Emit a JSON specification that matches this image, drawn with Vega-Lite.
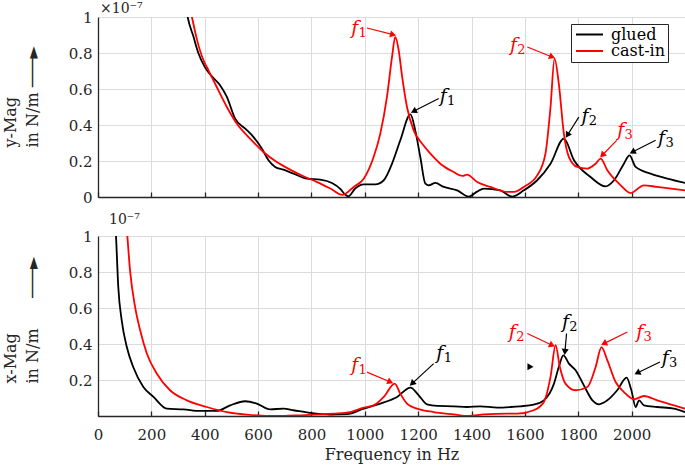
{
  "$schema": "https://vega.github.io/schema/vega-lite/v6.json",
  "background": "white",
  "padding": {"left": 2, "top": 2, "right": 0, "bottom": 2},
  "spacing": 8,
  "config": {
    "font": "DejaVu Serif",
    "view": {"stroke": null},
    "axis": {
      "labelFont": "DejaVu Serif", "titleFont": "DejaVu Serif",
      "labelFontSize": 15, "titleFontSize": 16, "titleFontWeight": "normal",
      "labelColor": "#262626", "titleColor": "#262626",
      "gridColor": "#dcdcdc", "gridWidth": 1,
      "domainColor": "#262626", "domainWidth": 1.3,
      "tickColor": "#262626", "tickWidth": 1.3,
      "labelOverlap": false, "labelFlush": false
    },
    "legend": {
      "orient": "none", "legendX": 473, "legendY": 7,
      "labelFont": "DejaVu Serif", "labelFontSize": 16, "labelColor": "#000000",
      "symbolType": "M-2.7,0H2.7", "symbolSize": 100, "symbolStrokeWidth": 2, "symbolOffset": 8,
      "strokeColor": "#262626", "fillColor": "white", "padding": 2.5,
      "labelOffset": 13.5, "cornerRadius": 0, "rowPadding": 0.5
    }
  },
  "datasets": {
    "top": [
      {"s":"glued","f":300,"v":1.35},{"s":"glued","f":320,"v":1.15},{"s":"glued","f":336,"v":1.0},{"s":"glued","f":358,"v":0.89},{"s":"glued","f":376,"v":0.8},{"s":"glued","f":401,"v":0.72},{"s":"glued","f":433,"v":0.66},{"s":"glued","f":458,"v":0.62},{"s":"glued","f":483,"v":0.556},{"s":"glued","f":514,"v":0.435},{"s":"glued","f":552,"v":0.38},{"s":"glued","f":583,"v":0.333},{"s":"glued","f":614,"v":0.269},{"s":"glued","f":639,"v":0.204},{"s":"glued","f":664,"v":0.167},{"s":"glued","f":695,"v":0.152},{"s":"glued","f":733,"v":0.13},{"s":"glued","f":783,"v":0.102},{"s":"glued","f":833,"v":0.097},{"s":"glued","f":877,"v":0.078},{"s":"glued","f":908,"v":0.045},{"s":"glued","f":927,"v":0.012},{"s":"glued","f":939,"v":0.004},{"s":"glued","f":964,"v":0.047},{"s":"glued","f":996,"v":0.07},{"s":"glued","f":1039,"v":0.07},{"s":"glued","f":1071,"v":0.093},{"s":"glued","f":1102,"v":0.185},{"s":"glued","f":1133,"v":0.315},{"s":"glued","f":1171,"v":0.459},{"s":"glued","f":1189,"v":0.37},{"s":"glued","f":1208,"v":0.222},{"s":"glued","f":1227,"v":0.074},{"s":"glued","f":1240,"v":0.065},{"s":"glued","f":1264,"v":0.078},{"s":"glued","f":1296,"v":0.056},{"s":"glued","f":1346,"v":0.037},{"s":"glued","f":1390,"v":0.002},{"s":"glued","f":1421,"v":0.03},{"s":"glued","f":1446,"v":0.047},{"s":"glued","f":1508,"v":0.037},{"s":"glued","f":1552,"v":0.002},{"s":"glued","f":1596,"v":0.037},{"s":"glued","f":1646,"v":0.093},{"s":"glued","f":1696,"v":0.185},{"s":"glued","f":1746,"v":0.324},{"s":"glued","f":1784,"v":0.204},{"s":"glued","f":1846,"v":0.111},{"s":"glued","f":1902,"v":0.059},{"s":"glued","f":1934,"v":0.093},{"s":"glued","f":1971,"v":0.185},{"s":"glued","f":1992,"v":0.231},{"s":"glued","f":2015,"v":0.167},{"s":"glued","f":2071,"v":0.13},{"s":"glued","f":2134,"v":0.102},{"s":"glued","f":2200,"v":0.078},
      {"s":"cast-in","f":330,"v":1.15},{"s":"cast-in","f":352,"v":1.0},{"s":"cast-in","f":370,"v":0.88},{"s":"cast-in","f":395,"v":0.76},{"s":"cast-in","f":414,"v":0.704},{"s":"cast-in","f":445,"v":0.611},{"s":"cast-in","f":483,"v":0.5},{"s":"cast-in","f":520,"v":0.408},{"s":"cast-in","f":570,"v":0.324},{"s":"cast-in","f":620,"v":0.25},{"s":"cast-in","f":670,"v":0.194},{"s":"cast-in","f":720,"v":0.152},{"s":"cast-in","f":770,"v":0.115},{"s":"cast-in","f":821,"v":0.083},{"s":"cast-in","f":871,"v":0.047},{"s":"cast-in","f":917,"v":0.012},{"s":"cast-in","f":958,"v":0.056},{"s":"cast-in","f":996,"v":0.102},{"s":"cast-in","f":1033,"v":0.222},{"s":"cast-in","f":1058,"v":0.352},{"s":"cast-in","f":1083,"v":0.556},{"s":"cast-in","f":1102,"v":0.778},{"s":"cast-in","f":1114,"v":0.889},{"s":"cast-in","f":1127,"v":0.815},{"s":"cast-in","f":1140,"v":0.667},{"s":"cast-in","f":1158,"v":0.5},{"s":"cast-in","f":1183,"v":0.37},{"s":"cast-in","f":1215,"v":0.296},{"s":"cast-in","f":1246,"v":0.241},{"s":"cast-in","f":1283,"v":0.185},{"s":"cast-in","f":1333,"v":0.139},{"s":"cast-in","f":1365,"v":0.117},{"s":"cast-in","f":1383,"v":0.124},{"s":"cast-in","f":1421,"v":0.083},{"s":"cast-in","f":1471,"v":0.056},{"s":"cast-in","f":1534,"v":0.028},{"s":"cast-in","f":1560,"v":0.028},{"s":"cast-in","f":1596,"v":0.056},{"s":"cast-in","f":1646,"v":0.12},{"s":"cast-in","f":1677,"v":0.241},{"s":"cast-in","f":1696,"v":0.5},{"s":"cast-in","f":1711,"v":0.769},{"s":"cast-in","f":1727,"v":0.63},{"s":"cast-in","f":1746,"v":0.352},{"s":"cast-in","f":1765,"v":0.222},{"s":"cast-in","f":1796,"v":0.167},{"s":"cast-in","f":1834,"v":0.158},{"s":"cast-in","f":1865,"v":0.185},{"s":"cast-in","f":1884,"v":0.213},{"s":"cast-in","f":1909,"v":0.148},{"s":"cast-in","f":1959,"v":0.065},{"s":"cast-in","f":1996,"v":0.022},{"s":"cast-in","f":2046,"v":0.065},{"s":"cast-in","f":2096,"v":0.056},{"s":"cast-in","f":2200,"v":0.037}
    ],
    "bottom": [
      {"s":"glued","f":55,"v":1.3},{"s":"glued","f":67.5,"v":1.0},{"s":"glued","f":76,"v":0.717},{"s":"glued","f":89,"v":0.53},{"s":"glued","f":108,"v":0.383},{"s":"glued","f":132,"v":0.272},{"s":"glued","f":170,"v":0.161},{"s":"glued","f":208,"v":0.106},{"s":"glued","f":258,"v":0.041},{"s":"glued","f":320,"v":0.037},{"s":"glued","f":383,"v":0.028},{"s":"glued","f":445,"v":0.028},{"s":"glued","f":495,"v":0.059},{"s":"glued","f":552,"v":0.082},{"s":"glued","f":595,"v":0.069},{"s":"glued","f":645,"v":0.037},{"s":"glued","f":695,"v":0.041},{"s":"glued","f":733,"v":0.032},{"s":"glued","f":795,"v":0.017},{"s":"glued","f":871,"v":0.008},{"s":"glued","f":933,"v":0.01},{"s":"glued","f":996,"v":0.041},{"s":"glued","f":1058,"v":0.069},{"s":"glued","f":1121,"v":0.106},{"s":"glued","f":1171,"v":0.158},{"s":"glued","f":1202,"v":0.115},{"s":"glued","f":1233,"v":0.065},{"s":"glued","f":1271,"v":0.056},{"s":"glued","f":1333,"v":0.054},{"s":"glued","f":1383,"v":0.05},{"s":"glued","f":1433,"v":0.054},{"s":"glued","f":1496,"v":0.047},{"s":"glued","f":1546,"v":0.05},{"s":"glued","f":1583,"v":0.054},{"s":"glued","f":1633,"v":0.063},{"s":"glued","f":1671,"v":0.087},{"s":"glued","f":1709,"v":0.18},{"s":"glued","f":1727,"v":0.272},{"s":"glued","f":1744,"v":0.337},{"s":"glued","f":1765,"v":0.291},{"s":"glued","f":1790,"v":0.254},{"s":"glued","f":1821,"v":0.17},{"s":"glued","f":1853,"v":0.087},{"s":"glued","f":1878,"v":0.065},{"s":"glued","f":1909,"v":0.087},{"s":"glued","f":1946,"v":0.143},{"s":"glued","f":1981,"v":0.213},{"s":"glued","f":1999,"v":0.143},{"s":"glued","f":2015,"v":0.05},{"s":"glued","f":2028,"v":0.087},{"s":"glued","f":2046,"v":0.059},{"s":"glued","f":2096,"v":0.05},{"s":"glued","f":2159,"v":0.041},{"s":"glued","f":2200,"v":0.022},
      {"s":"cast-in","f":95,"v":1.3},{"s":"cast-in","f":110,"v":1.0},{"s":"cast-in","f":120,"v":0.81},{"s":"cast-in","f":139,"v":0.606},{"s":"cast-in","f":158,"v":0.476},{"s":"cast-in","f":183,"v":0.347},{"s":"cast-in","f":220,"v":0.236},{"s":"cast-in","f":270,"v":0.143},{"s":"cast-in","f":333,"v":0.087},{"s":"cast-in","f":408,"v":0.05},{"s":"cast-in","f":483,"v":0.022},{"s":"cast-in","f":558,"v":0.008},{"s":"cast-in","f":670,"v":0.0},{"s":"cast-in","f":758,"v":0.004},{"s":"cast-in","f":883,"v":0.013},{"s":"cast-in","f":946,"v":0.022},{"s":"cast-in","f":996,"v":0.047},{"s":"cast-in","f":1033,"v":0.059},{"s":"cast-in","f":1071,"v":0.106},{"s":"cast-in","f":1112,"v":0.18},{"s":"cast-in","f":1133,"v":0.124},{"s":"cast-in","f":1158,"v":0.069},{"s":"cast-in","f":1196,"v":0.041},{"s":"cast-in","f":1258,"v":0.022},{"s":"cast-in","f":1333,"v":0.009},{"s":"cast-in","f":1390,"v":0.0},{"s":"cast-in","f":1446,"v":0.009},{"s":"cast-in","f":1534,"v":0.013},{"s":"cast-in","f":1571,"v":0.013},{"s":"cast-in","f":1633,"v":0.032},{"s":"cast-in","f":1671,"v":0.078},{"s":"cast-in","f":1696,"v":0.217},{"s":"cast-in","f":1715,"v":0.393},{"s":"cast-in","f":1731,"v":0.272},{"s":"cast-in","f":1752,"v":0.18},{"s":"cast-in","f":1790,"v":0.143},{"s":"cast-in","f":1834,"v":0.161},{"s":"cast-in","f":1865,"v":0.272},{"s":"cast-in","f":1887,"v":0.383},{"s":"cast-in","f":1909,"v":0.309},{"s":"cast-in","f":1940,"v":0.189},{"s":"cast-in","f":1971,"v":0.133},{"s":"cast-in","f":2009,"v":0.093},{"s":"cast-in","f":2046,"v":0.111},{"s":"cast-in","f":2096,"v":0.087},{"s":"cast-in","f":2159,"v":0.059},{"s":"cast-in","f":2200,"v":0.041}
    ],
    "annTop": [
      {"s":"cast-in","n":"1","tx":962,"ty":0.937,"ax":1008,"ay":0.939,"bx":1106,"by":0.902},
      {"s":"glued","n":"1","tx":1294,"ty":0.559,"ax":1277,"ay":0.547,"bx":1183,"by":0.476},
      {"s":"cast-in","n":"2","tx":1557,"ty":0.843,"ax":1609,"ay":0.833,"bx":1702,"by":0.778},
      {"s":"glued","n":"2","tx":1825,"ty":0.448,"ax":1802,"ay":0.444,"bx":1759,"by":0.343},
      {"s":"cast-in","n":"3","tx":1959,"ty":0.37,"ax":1944,"ay":0.315,"bx":1890,"by":0.232},
      {"s":"glued","n":"3","tx":2112,"ty":0.326,"ax":2090,"ay":0.315,"bx":2003,"by":0.25}
    ],
    "annBottom": [
      {"s":"cast-in","n":"1","tx":962,"ty":0.282,"ax":1008,"ay":0.244,"bx":1096,"by":0.189},
      {"s":"glued","n":"1","tx":1281,"ty":0.348,"ax":1258,"ay":0.291,"bx":1177,"by":0.18},
      {"s":"cast-in","n":"2","tx":1553,"ty":0.465,"ax":1609,"ay":0.458,"bx":1702,"by":0.393},
      {"s":"glued","n":"2","tx":1752,"ty":0.52,"ax":1756,"ay":0.458,"bx":1750,"by":0.356},
      {"s":"cast-in","n":"3","tx":2030,"ty":0.465,"ax":1984,"ay":0.467,"bx":1896,"by":0.402},
      {"s":"glued","n":"3","tx":2126,"ty":0.32,"ax":2106,"ay":0.3,"bx":2021,"by":0.239}
    ],
    "marker": [{"x":1621,"y":0.274}]
  },
  "vconcat": [
    {
      "width": 587, "height": 180,
      "title": {"text": "×10⁻⁷", "anchor": "start", "frame": "group", "fontSize": 14, "font": "DejaVu Serif", "fontWeight": "normal", "color": "#262626", "offset": -6, "dx": 2},
      "layer": [
        {
          "data": {"name": "top"},
          "mark": {"type": "line", "clip": true, "strokeWidth": 1.8, "interpolate": "monotone"},
          "encoding": {
            "x": {"field": "f", "type": "quantitative", "scale": {"domain": [0, 2200], "nice": false},
                  "axis": {"values": [0,200,400,600,800,1000,1200,1400,1600,1800,2000], "labels": false, "tickSize": -5, "title": null}},
            "y": {"field": "v", "type": "quantitative", "scale": {"domain": [0, 1], "nice": false},
                  "axis": {"tickCount": 5, "labelExpr": "format(datum.value, '.1~f')", "ticks": false, "labelPadding": 6, "labelOverlap": false,
                           "title": ["y-Mag", "in N/m ───►"], "titleAngle": 270, "titleAlign": "left", "titleBaseline": "top",
                           "titleX": -96, "titleY": 130, "titleLineHeight": 22}},
            "color": {"field": "s", "type": "nominal", "scale": {"domain": ["glued", "cast-in"], "range": ["#000000", "#ff0000"]},
                      "legend": {"title": null, "labelExpr": "datum.label + '\u00a0\u00a0\u00a0\u00a0'"}}
          }
        },
        {
          "data": {"name": "annTop"},
          "mark": {"type": "rule", "strokeWidth": 1.2},
          "encoding": {
            "x": {"field": "ax", "type": "quantitative"}, "y": {"field": "ay", "type": "quantitative"},
            "x2": {"field": "bx"}, "y2": {"field": "by"},
            "color": {"condition": {"test": "datum.s === 'cast-in'", "value": "#ff0000"}, "value": "#000000"}
          }
        },
        {
          "data": {"name": "annTop"},
          "transform": [{"calculate": "atan2((datum.bx-datum.ax)*0.2668,(datum.by-datum.ay)*180)*180/PI", "as": "ang"}],
          "mark": {"type": "point", "shape": "triangle-up", "filled": true, "size": 50, "opacity": 1, "strokeWidth": 0},
          "encoding": {
            "x": {"field": "bx", "type": "quantitative"}, "y": {"field": "by", "type": "quantitative"},
            "angle": {"field": "ang", "type": "quantitative", "scale": null},
            "color": {"condition": {"test": "datum.s === 'cast-in'", "value": "#ff0000"}, "value": "#000000"}
          }
        },
        {
          "data": {"name": "annTop"},
          "mark": {"type": "text", "text": "f", "fontStyle": "italic", "fontSize": 19, "font": "DejaVu Serif", "align": "center", "baseline": "middle"},
          "encoding": {
            "x": {"field": "tx", "type": "quantitative"}, "y": {"field": "ty", "type": "quantitative"},
            "color": {"condition": {"test": "datum.s === 'cast-in'", "value": "#ff0000"}, "value": "#000000"}
          }
        },
        {
          "data": {"name": "annTop"},
          "mark": {"type": "text", "fontSize": 13, "font": "DejaVu Serif", "align": "center", "baseline": "middle", "dx": 8, "dy": 5},
          "encoding": {
            "x": {"field": "tx", "type": "quantitative"}, "y": {"field": "ty", "type": "quantitative"},
            "text": {"field": "n"},
            "color": {"condition": {"test": "datum.s === 'cast-in'", "value": "#ff0000"}, "value": "#000000"}
          }
        }
      ]
    },
    {
      "width": 587, "height": 180,
      "title": {"text": "10⁻⁷", "anchor": "start", "frame": "group", "fontSize": 14, "font": "DejaVu Serif", "fontWeight": "normal", "color": "#262626", "offset": 2, "dx": 11},
      "layer": [
        {
          "data": {"name": "bottom"},
          "mark": {"type": "line", "clip": true, "strokeWidth": 1.8, "interpolate": "monotone"},
          "encoding": {
            "x": {"field": "f", "type": "quantitative", "scale": {"domain": [0, 2200], "nice": false},
                  "axis": {"values": [0,200,400,600,800,1000,1200,1400,1600,1800,2000], "format": "d", "tickSize": -5, "labelPadding": 16, "title": "Frequency in Hz", "titlePadding": 4}},
            "y": {"field": "v", "type": "quantitative", "scale": {"domain": [0, 1], "nice": false},
                  "axis": {"values": [0.2,0.4,0.6,0.8,1], "format": ".1~f", "ticks": false, "labelPadding": 6, "labelOverlap": false,
                           "title": ["x-Mag", "in N/m\u00a0\u00a0\u00a0\u00a0\u00a0\u00a0───►"], "titleAngle": 270, "titleAlign": "left", "titleBaseline": "top",
                           "titleX": -96, "titleY": 147, "titleLineHeight": 22}},
            "color": {"field": "s", "type": "nominal", "scale": {"domain": ["glued", "cast-in"], "range": ["#000000", "#ff0000"]}, "legend": null}
          }
        },
        {
          "data": {"name": "annBottom"},
          "mark": {"type": "rule", "strokeWidth": 1.2},
          "encoding": {
            "x": {"field": "ax", "type": "quantitative"}, "y": {"field": "ay", "type": "quantitative"},
            "x2": {"field": "bx"}, "y2": {"field": "by"},
            "color": {"condition": {"test": "datum.s === 'cast-in'", "value": "#ff0000"}, "value": "#000000"}
          }
        },
        {
          "data": {"name": "annBottom"},
          "transform": [{"calculate": "atan2((datum.bx-datum.ax)*0.2668,(datum.by-datum.ay)*180)*180/PI", "as": "ang"}],
          "mark": {"type": "point", "shape": "triangle-up", "filled": true, "size": 50, "opacity": 1, "strokeWidth": 0},
          "encoding": {
            "x": {"field": "bx", "type": "quantitative"}, "y": {"field": "by", "type": "quantitative"},
            "angle": {"field": "ang", "type": "quantitative", "scale": null},
            "color": {"condition": {"test": "datum.s === 'cast-in'", "value": "#ff0000"}, "value": "#000000"}
          }
        },
        {
          "data": {"name": "marker"},
          "mark": {"type": "point", "shape": "triangle-right", "filled": true, "size": 50, "opacity": 1, "strokeWidth": 0, "color": "#000000"},
          "encoding": {
            "x": {"field": "x", "type": "quantitative"}, "y": {"field": "y", "type": "quantitative"}
          }
        },
        {
          "data": {"name": "annBottom"},
          "mark": {"type": "text", "text": "f", "fontStyle": "italic", "fontSize": 19, "font": "DejaVu Serif", "align": "center", "baseline": "middle"},
          "encoding": {
            "x": {"field": "tx", "type": "quantitative"}, "y": {"field": "ty", "type": "quantitative"},
            "color": {"condition": {"test": "datum.s === 'cast-in'", "value": "#ff0000"}, "value": "#000000"}
          }
        },
        {
          "data": {"name": "annBottom"},
          "mark": {"type": "text", "fontSize": 13, "font": "DejaVu Serif", "align": "center", "baseline": "middle", "dx": 8, "dy": 5},
          "encoding": {
            "x": {"field": "tx", "type": "quantitative"}, "y": {"field": "ty", "type": "quantitative"},
            "text": {"field": "n"},
            "color": {"condition": {"test": "datum.s === 'cast-in'", "value": "#ff0000"}, "value": "#000000"}
          }
        }
      ]
    }
  ],
  "resolve": {"legend": {"color": "independent"}}
}
